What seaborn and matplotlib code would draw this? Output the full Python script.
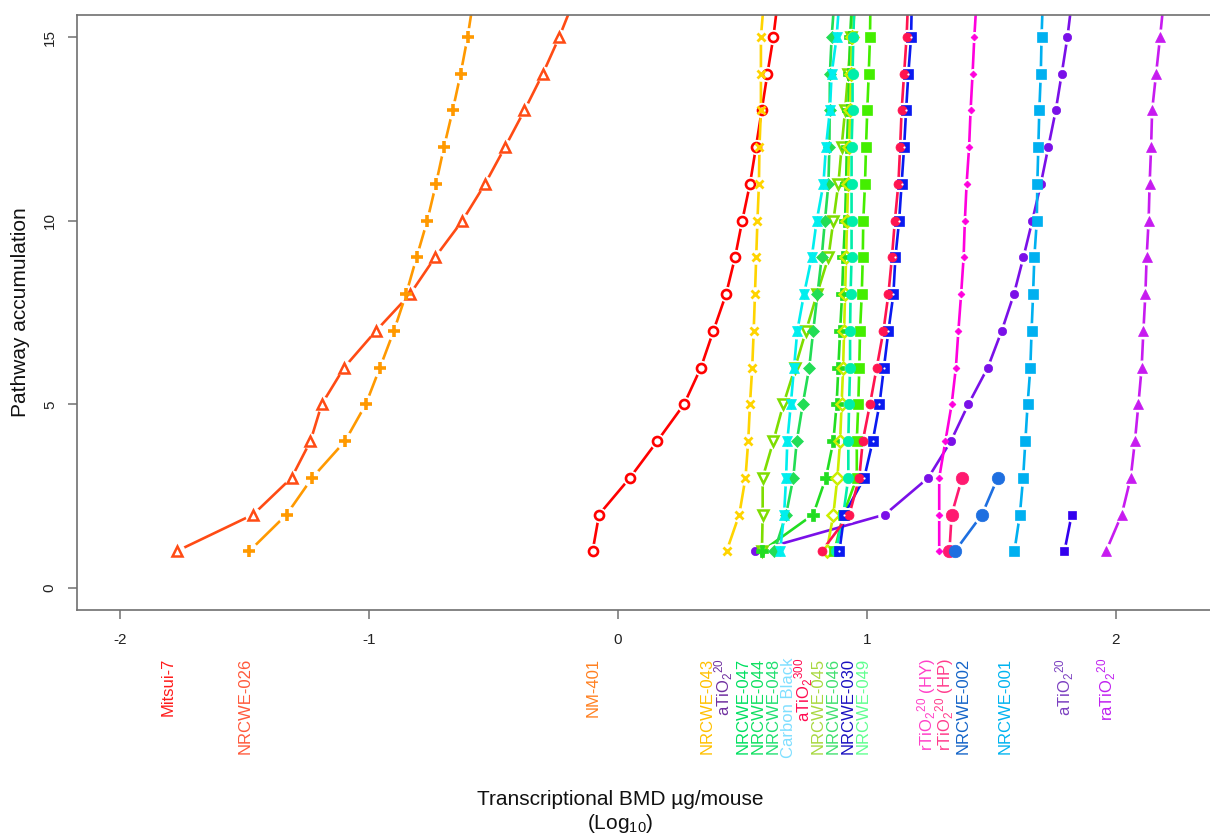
import numpy as np
import matplotlib
matplotlib.use("Agg")
import matplotlib.pyplot as plt
import seaborn as sns

# Transcriptional BMD (log10 ug/mouse) of the 1st, 2nd, 3rd ... most sensitive pathway
mitsui7 = [-1.773, -1.465, -1.311, -1.235, -1.190, -1.100, -0.972, -0.835, -0.735, -0.625,
           -0.534, -0.454, -0.376, -0.302, -0.236, -0.177]
nrcwe026 = [-1.481, -1.331, -1.228, -1.096, -1.013, -0.956, -0.900, -0.851, -0.809, -0.766,
            -0.731, -0.699, -0.664, -0.632, -0.604, -0.581]
nm401 = [-0.102, -0.076, 0.048, 0.158, 0.265, 0.333, 0.383, 0.434, 0.470, 0.499,
         0.530, 0.554, 0.577, 0.600, 0.624, 0.642]
nrcwe043 = [0.436, 0.487, 0.512, 0.523, 0.530, 0.539, 0.545, 0.550, 0.555, 0.560,
            0.566, 0.568, 0.574, 0.574, 0.574, 0.586]
atio2_20_a = [0.550, 1.072, 1.246, 1.337, 1.407, 1.485, 1.541, 1.590, 1.628, 1.664,
              1.698, 1.728, 1.758, 1.782, 1.805, 1.823]
nrcwe047 = [0.578, 0.581, 0.581, 0.624, 0.664, 0.711, 0.755, 0.799, 0.845, 0.865,
            0.885, 0.898, 0.912, 0.924, 0.936, 0.947]
nrcwe044 = [0.578, 0.784, 0.835, 0.865, 0.878, 0.885, 0.892, 0.900, 0.905, 0.912,
            0.916, 0.919, 0.925, 0.929, 0.932, 0.940]
nrcwe048 = [0.628, 0.675, 0.704, 0.718, 0.742, 0.768, 0.784, 0.801, 0.818, 0.831,
            0.845, 0.849, 0.850, 0.851, 0.858, 0.869]
carbon_black = [0.651, 0.667, 0.675, 0.680, 0.694, 0.707, 0.720, 0.747, 0.778, 0.798,
                0.825, 0.835, 0.851, 0.858, 0.878, 0.889]
atio2_300 = [0.818, 0.929, 0.969, 0.983, 1.012, 1.039, 1.066, 1.086, 1.100, 1.112,
             1.126, 1.133, 1.139, 1.149, 1.159, 1.165]
nrcwe045 = [0.838, 0.865, 0.881, 0.892, 0.898, 0.904, 0.908, 0.912, 0.916, 0.920,
            0.924, 0.928, 0.932, 0.936, 0.940, 0.955]
nrcwe046 = [0.869, 0.905, 0.959, 0.959, 0.965, 0.969, 0.972, 0.979, 0.983, 0.985,
            0.992, 0.996, 1.001, 1.007, 1.012, 1.014]
nrcwe030 = [0.889, 0.909, 0.989, 1.023, 1.050, 1.068, 1.086, 1.106, 1.114, 1.129,
            1.139, 1.149, 1.157, 1.166, 1.177, 1.180]
nrcwe049 = [0.875, 0.905, 0.925, 0.925, 0.928, 0.932, 0.932, 0.934, 0.938, 0.938,
            0.938, 0.938, 0.942, 0.942, 0.945, 0.950]
rtio2_hy = [1.290, 1.290, 1.290, 1.315, 1.340, 1.357, 1.367, 1.378, 1.388, 1.393,
            1.400, 1.410, 1.416, 1.424, 1.431, 1.440]
rtio2_hp = [1.331, 1.340, 1.382]
nrcwe002 = [1.353, 1.462, 1.525]
nrcwe001 = [1.592, 1.614, 1.627, 1.636, 1.645, 1.656, 1.661, 1.667, 1.672, 1.682,
            1.684, 1.688, 1.692, 1.698, 1.701, 1.706]
atio2_20_b = [1.793, 1.822]
ratio2_20 = [1.960, 2.023, 2.059, 2.076, 2.090, 2.103, 2.110, 2.118, 2.123, 2.131,
             2.135, 2.141, 2.145, 2.161, 2.177, 2.192]

# Material names written under the x axis
label_text = ["Mitsui-7", "NRCWE-026", "NM-401", "NRCWE-043", r"aTiO$_2$$^{20}$",
              "NRCWE-047", "NRCWE-044", "NRCWE-048", "Carbon Black", r"aTiO$_2$$^{300}$",
              "NRCWE-045", "NRCWE-046", "NRCWE-030", "NRCWE-049",
              r"rTiO$_2$$^{20}$ (HY)", r"rTiO$_2$$^{20}$ (HP)", "NRCWE-002", "NRCWE-001",
              r"aTiO$_2$$^{20}$", r"raTiO$_2$$^{20}$"]
label_colors = ["#FF1A1A", "#FF5A3C", "#FF8020", "#FFC000", "#7030A0",
                "#00E060", "#10E060", "#20E070", "#80DFFF", "#FF0A50",
                "#A8D840", "#40E070", "#1A10C0", "#60FF90",
                "#FF40C8", "#FF3C8C", "#1464C8", "#00B4F0",
                "#7B3FC0", "#C020F0"]
# horizontal placement of each name, in axis units
label_pos = [-1.807, -1.498, -0.100, 0.357, 0.425, 0.502, 0.562, 0.622, 0.683, 0.746,
             0.803, 0.863, 0.924, 0.984, 1.241, 1.313, 1.386, 1.554, 1.792, 1.961]

xticks = [-2, -1, 0, 1, 2]
yticks = [0, 5, 10, 15]

# drawing style of every curve: (values, colour, markers, marker size, filled, edge width)
series = [
    (mitsui7, "#FF4B14", ["^"], 7.0, False, 1.8),
    (nrcwe026, "#FF9900", ["+"], 9.0, False, 2.6),
    (nm401, "#FF0000", ["o"], 6.5, False, 1.9),
    (nrcwe043, "#FFD400", ["x"], 6.0, False, 2.0),
    (atio2_20_a, "#7A10E8", ["o"], 6.0, True, 0),
    (nrcwe047, "#7EDD00", ["v"], 7.0, False, 1.8),
    (nrcwe044, "#22DD22", ["P"], 8.0, True, 0),
    (nrcwe048, "#22DD55", ["D"], 6.5, True, 0),
    (carbon_black, "#00EEEE", ["^", "v"], 7.0, True, 0),
    (nrcwe045, "#CCEE00", ["D"], 6.0, False, 1.8),
    (nrcwe046, "#44EE00", ["s"], 7.0, True, 0),
    (nrcwe049, "#00EEAA", ["o"], 7.5, True, 0),
    (nrcwe030, "#0A1AF0", ["s"], 6.5, True, 0),
    (atio2_300, "#FF1450", ["o"], 6.5, True, 0),
    (rtio2_hy, "#FF00DD", ["D"], 3.5, True, 0),
    (rtio2_hp, "#FF1A70", ["o"], 9.0, True, 0),
    (nrcwe002, "#1E6FE0", ["o"], 9.0, True, 0),
    (nrcwe001, "#00B0F0", ["s"], 7.5, True, 0),
    (atio2_20_b, "#3300EE", ["s"], 5.5, True, 0),
    (ratio2_20, "#C71BF0", ["^"], 7.0, True, 0),
]

sns.set_theme(style="white")
plt.rcParams["font.family"] = ["Liberation Sans", "DejaVu Sans"]
plt.rcParams["mathtext.default"] = "regular"

W, H = 1210, 835
fig = plt.figure(figsize=(W / 100, H / 100), dpi=100)
ax_l, ax_r, ax_t, ax_b = 77, 1211, 15, 610
ax = fig.add_axes([ax_l / W, (H - ax_b) / H, (ax_r - ax_l) / W, (ax_b - ax_t) / H])

# lines first, then white rings that open a gap round each point, then the points
for vals, col, mks, ms, filled, mew in series:
    rank = np.arange(1, len(vals) + 1)
    sns.lineplot(x=vals, y=rank, sort=False, estimator=None, color=col,
                 linewidth=1.9, ax=ax, legend=False, zorder=2)
for vals, col, mks, ms, filled, mew in series:
    rank = np.arange(1, len(vals) + 1)
    sns.lineplot(x=vals, y=rank, sort=False, estimator=None, linestyle="none",
                 marker="o", markersize=ms + 4.5, markerfacecolor="white",
                 markeredgecolor="white", markeredgewidth=0, ax=ax,
                 legend=False, zorder=3)
for vals, col, mks, ms, filled, mew in series:
    rank = np.arange(1, len(vals) + 1)
    for mk in mks:
        sns.lineplot(x=vals, y=rank, sort=False, estimator=None, linestyle="none",
                     marker=mk, markersize=ms,
                     markerfacecolor=col if filled else "none",
                     markeredgecolor=col, markeredgewidth=mew if mew else 0.5,
                     ax=ax, legend=False, zorder=4)
    if col == "#0A1AF0":
        sns.lineplot(x=vals, y=rank, sort=False, estimator=None, linestyle="none",
                     marker="o", markersize=1.6, markerfacecolor="white",
                     markeredgecolor="white", markeredgewidth=0, ax=ax,
                     legend=False, zorder=5)

px_per_unit = 249.0
x_zero = 618.0
ax.set_xlim((ax_l - x_zero) / px_per_unit, (ax_r - x_zero) / px_per_unit)
ax.set_ylim(-0.6, 15.6)
ax.set_xticks(xticks)
ax.set_xticklabels([str(t) for t in xticks])
ax.set_yticks(yticks)
ax.set_yticklabels([str(t) for t in yticks], rotation=90, va="center")

frame = "#707070"
for sp in ax.spines.values():
    sp.set_color(frame)
    sp.set_linewidth(1.2)
ax.tick_params(axis="both", direction="out", length=6.5, width=1.1, color=frame,
               labelsize=11, labelcolor="#222222")
ax.tick_params(axis="x", pad=10, bottom=True)
ax.tick_params(axis="y", pad=8, left=True)

ax.set_ylabel("Pathway accumulation", fontsize=15, color="#111111")
ax.yaxis.set_label_coords((30 - ax_l) / (ax_r - ax_l), 0.5)
ax.set_xlabel("Transcriptional BMD µg/mouse\n(Log$_{10}$)", fontsize=15,
              color="#111111", linespacing=1.15)
ax.xaxis.set_label_coords((620 - ax_l) / (ax_r - ax_l), (ax_b - 790) / (ax_b - ax_t))
ax.xaxis.label.set_va("top")

name_y = (ax_b - 658) / (ax_b - ax_t)
for txt, col, xp in zip(label_text, label_colors, label_pos):
    ax.text(xp, name_y, txt, color=col, fontsize=12, rotation=90, ha="center",
            va="top", transform=ax.get_xaxis_transform(), clip_on=False)

fig.savefig("out.png", dpi=100, facecolor="white")
